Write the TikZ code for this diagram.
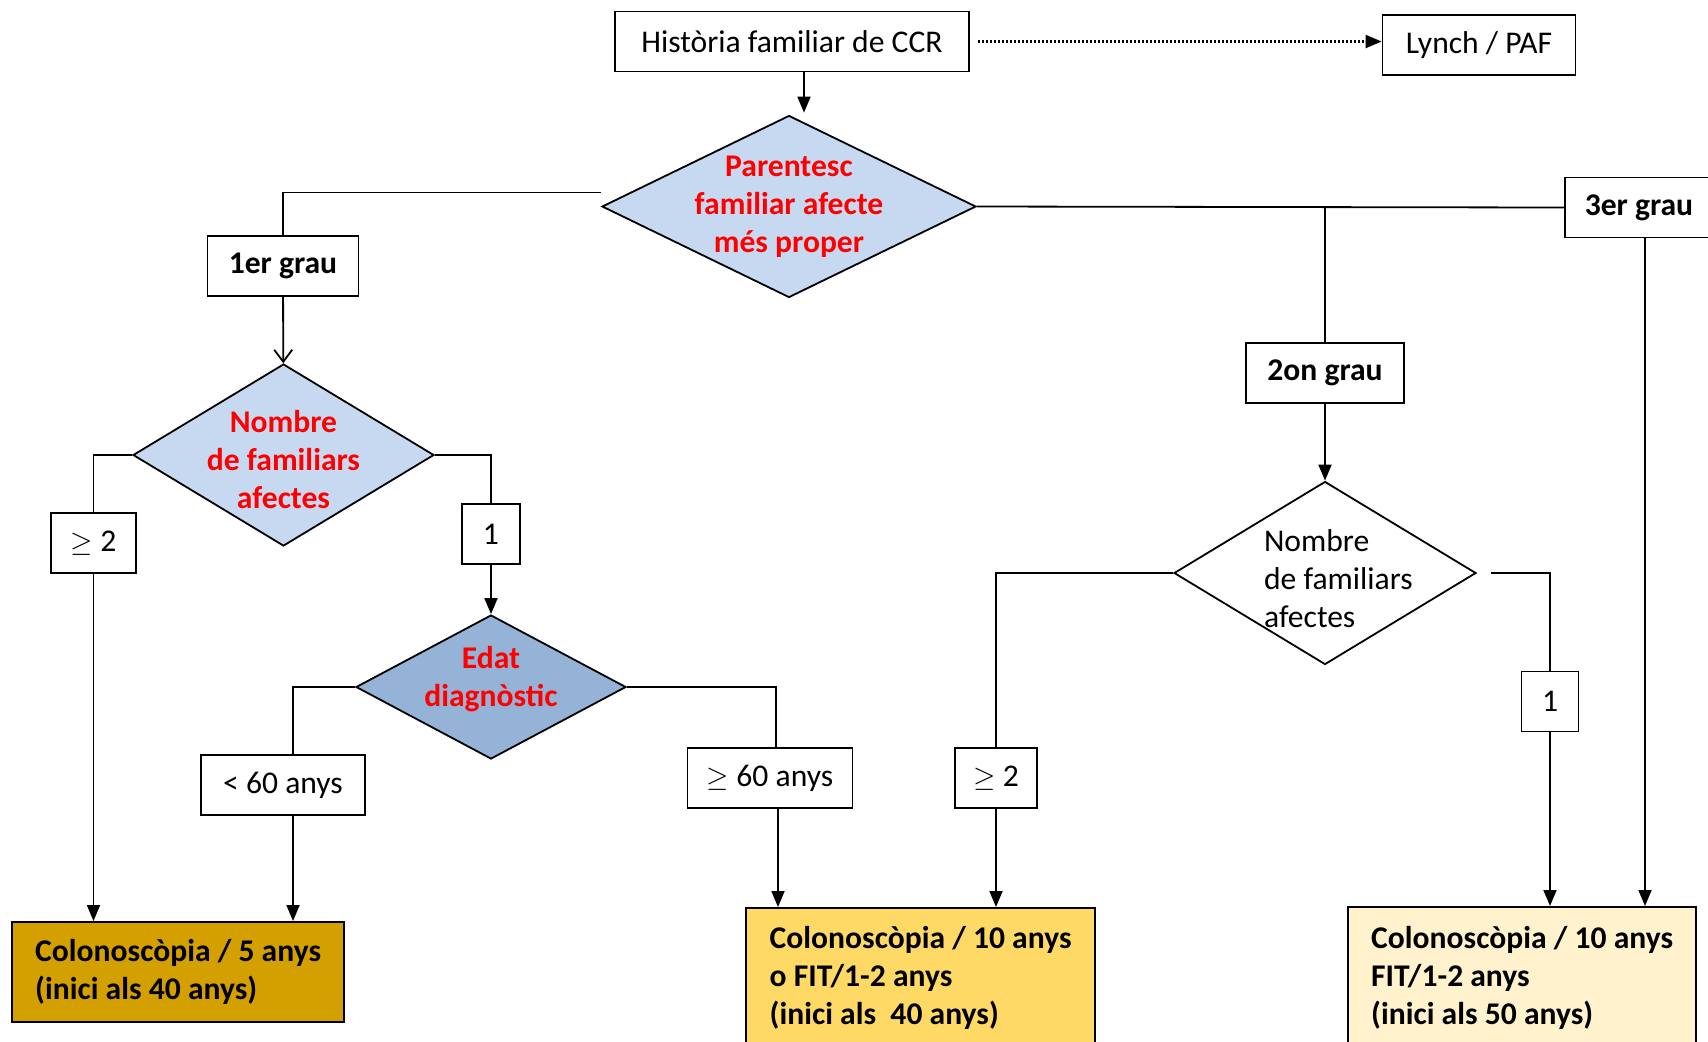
\documentclass[tikz,border=0pt]{standalone}
\usepackage{fontspec}
\setmainfont{Carlito}
\usepackage{tikz}
\usetikzlibrary{arrows.meta}
\usetikzlibrary{shapes.geometric}
\definecolor{lightblue}{RGB}{198,217,241}
\definecolor{midblue}{RGB}{149,179,215}
\definecolor{darkgold}{RGB}{212,160,0}
\definecolor{gold}{RGB}{255,217,102}
\definecolor{palegold}{RGB}{255,242,204}
\newcommand\flowfont{\fontsize{15.8}{19}\selectfont}
\tikzset{>=latex}
\tikzstyle{box}=[draw=black,line width=0.9,fill=white,inner sep=0,minimum height=30pt,font=\flowfont]
\tikzstyle{bold box}=[box,font=\flowfont\bfseries]
\tikzstyle{decision}=[diamond,draw=black,line width=0.9,inner sep=0]
\tikzstyle{decision text}=[align=center,text=red,font=\flowfont\bfseries]
\tikzstyle{result}=[draw=black,line width=1.1,anchor=north west,align=left,
                    inner xsep=4pt,inner ysep=0,font=\flowfont\bfseries]
\tikzstyle{link}=[draw=black,line width=0.9]
\tikzstyle{arr}=[link,-{Triangle[length=8pt,width=6.5pt]}]
\tikzstyle{open arr}=[link,-{Straight Barb[length=6pt,width=9pt]}]
\tikzstyle{dotted arr}=[link,line width=1.1,dash pattern=on 1pt off 1pt,-{Triangle[length=8pt,width=6.5pt]}]

\begin{document}
\begin{tikzpicture}[x=0.5pt,y=-0.5pt]

  \useasboundingbox (0,0) rectangle (1708,1041);
  \clip (0,0) rectangle (1708,1041);

  % TOP
  \node[box,minimum width=177pt] (historia) at (792,41.5) {Història familiar de CCR};
  \node[box,minimum width=96.5pt] (lynch) at (1479,45) {Lynch / PAF};
  \node[decision,fill=lightblue,minimum width=187pt,minimum height=91pt] (parentesc) at (789,206.5) {};
  \node[decision text] (parentesc text) at (parentesc) {Parentesc\\familiar afecte\\més proper};

  % 1ER GRAU BRANCH
  \node[bold box,minimum width=75.5pt] (grau1) at (283,266) {1er grau};
  \node[decision,fill=lightblue,minimum width=150.5pt,minimum height=91pt] (nombre1) at (283.5,455) {};
  \node[decision text,yshift=-2.2pt] (nombre1 text) at (nombre1) {Nombre\\de familiars\\afectes};
  \node[box,minimum width=42.5pt] (ge2a) at (93.5,543) {$\geq$ 2};
  \node[box,minimum width=29pt] (one1) at (491,534) {1};
  \node[decision,fill=midblue,minimum width=135pt,minimum height=72pt] (edat) at (491,687) {};
  \node[decision text,yshift=3.8pt] (edat text) at (edat) {Edat\\diagnòstic};
  \node[box,minimum width=82pt] (lt60) at (283,785) {< 60 anys};
  \node[box,minimum width=82.5pt] (ge60) at (770,778) {$\geq$ 60 anys};

  % 2ON / 3ER GRAU BRANCH
  \node[bold box,minimum width=74pt] (grau3) at (1639,207.5) {3er grau};
  \node[bold box,minimum width=79pt] (grau2) at (1325,373) {2on grau};
  \node[decision,fill=white,minimum width=151pt,minimum height=91.5pt] (nombre2) at (1325,573) {};
  \node[decision text,text=black,font=\flowfont,align=left,anchor=west,xshift=-34pt,yshift=-2.7pt]
    (nombre2 text) at (nombre2) {Nombre\\de familiars\\afectes};
  \node[box,minimum width=41pt] (ge2b) at (996,778) {$\geq$ 2};
  \node[box,minimum width=28.5pt] (one2) at (1550,701.5) {1};

  % RESULTS
  \node[result,fill=darkgold,minimum width=166pt,minimum height=50pt] (colo5)
    at (11,921) {Colonoscòpia / 5 anys\\(inici als 40 anys)};
  \node[result,fill=gold,minimum width=174.5pt,minimum height=70pt] (colo10)
    at (745,907) {Colonoscòpia / 10 anys\\o FIT/1-2 anys\\(inici als \ 40 anys)};
  \node[result,fill=palegold,minimum width=174pt,minimum height=71pt] (colo50)
    at (1347,906) {Colonoscòpia / 10 anys\\FIT/1-2 anys\\(inici als 50 anys)};

  % CONNECTORS
  \draw[dotted arr] ([xshift=4pt]historia.east) -- (historia.east -| lynch.west);
  \draw[arr] ([xshift=6pt]historia.south) -- ([xshift=6pt,yshift=1pt]historia.south |- parentesc.north);
  \draw[link] ([yshift=7pt]parentesc.west) -| (grau1.north);
  \draw[link] (parentesc.east) -- (grau3.west);
  \draw[link] (grau2.north |- parentesc.east) -- (grau2.north);
  \draw[open arr] (grau1) -- (nombre1);

  \draw[link] (nombre1.west) -| (ge2a.north);
  \draw[arr] (ge2a.south) -- (ge2a.south |- colo5.north);
  \draw[link] (nombre1.east) -| (one1.north);
  \draw[arr] (one1) -- (edat);
  \draw[link] (edat.west) -| ([xshift=5pt]lt60.north);
  \draw[arr] ([xshift=5pt]lt60.south) -- ([xshift=5pt]lt60.south |- colo5.north);
  \draw[link] (edat.east) -| ([xshift=3pt]ge60.north);
  \draw[arr] ([xshift=4pt]ge60.south) -- ([xshift=4pt]ge60.south |- colo10.north);

  \draw[arr] (grau2) -- (nombre2);
  \draw[link] (nombre2.west) -| (ge2b.north);
  \draw[arr] (ge2b.south) -- (ge2b.south |- colo10.north);
  \draw[link] ([xshift=7pt]nombre2.east) -| (one2.north);
  \draw[arr] (one2.south) -- (one2.south |- colo50.north);
  \draw[arr] ([xshift=3pt]grau3.south) -- ([xshift=3pt]grau3.south |- colo50.north);

\end{tikzpicture}
\end{document}
